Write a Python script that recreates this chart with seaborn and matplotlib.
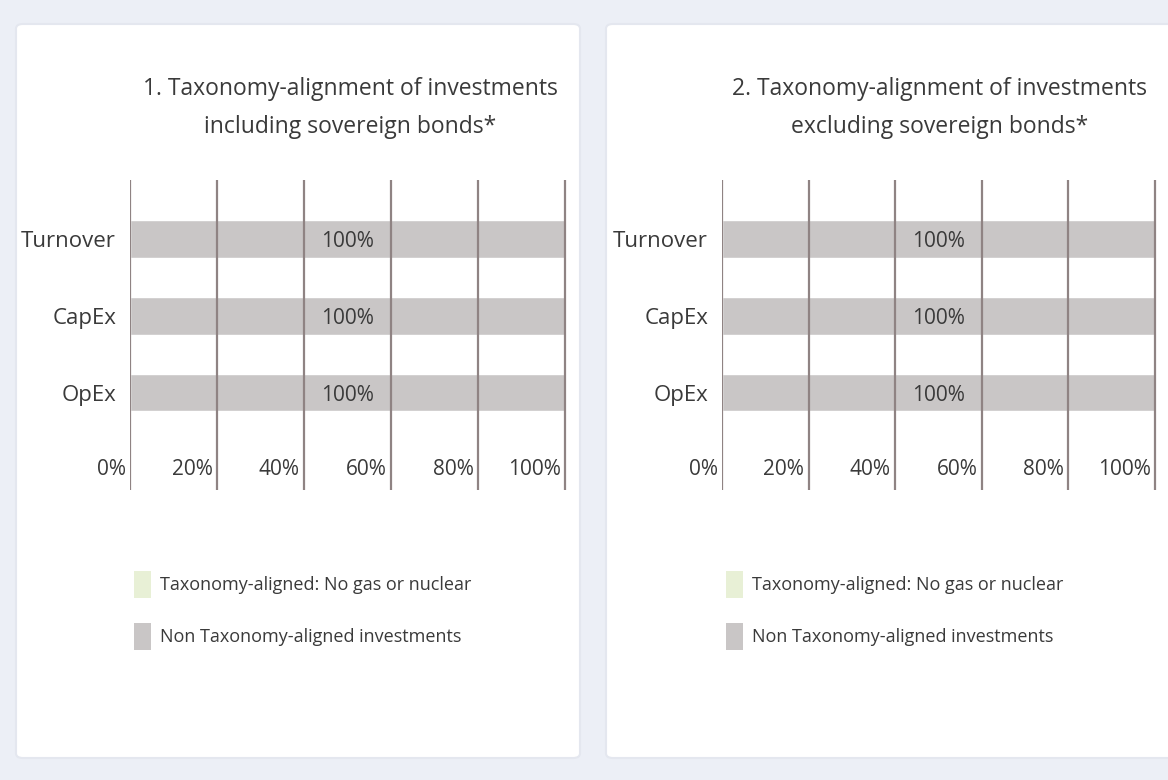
import pandas as pd
import matplotlib.pyplot as plt
import seaborn as sns
from matplotlib.patches import FancyBboxPatch, Patch

# --- data ---
categories = ["Turnover", "CapEx", "OpEx"]
aligned_incl = [0, 0, 0]
non_aligned_incl = [100, 100, 100]
aligned_excl = [0, 0, 0]
non_aligned_excl = [100, 100, 100]
tick_values = [0, 20, 40, 60, 80, 100]
titles = ["1. Taxonomy-alignment of investments\nincluding sovereign bonds*",
          "2. Taxonomy-alignment of investments\nexcluding sovereign bonds*"]
legend_labels = ["Taxonomy-aligned: No gas or nuclear",
                 "Non Taxonomy-aligned investments"]

green = "#e8f0d6"
grey = "#c9c6c6"
grid_col = "#8f8383"
text_col = "#3a3a3a"

sns.set_style("white")
plt.rcParams['font.family'] = ['Open Sans', 'DejaVu Sans']

fig = plt.figure(figsize=(11.68, 7.80), dpi=100)
fig.patch.set_facecolor("#eceff6")

W, H = 1168, 780

def fx(px):
    return px / W

def fy(py):
    return 1 - py / H

# white panels
for x0, x1 in [(16, 580), (606, 1180)]:
    fig.patches.append(FancyBboxPatch((fx(x0), fy(758)), fx(x1 - x0), (758 - 24) / H,
                                      boxstyle="round,pad=0,rounding_size=0.006",
                                      transform=fig.transFigure, facecolor="white",
                                      edgecolor="#e4e7ef", linewidth=1.5, zorder=-1))

panels = [
    (130, 567, 350, aligned_incl, non_aligned_incl, titles[0]),
    (722, 1157, 940, aligned_excl, non_aligned_excl, titles[1]),
]

for left, right, title_x, aligned, non_aligned, title in panels:
    ax = fig.add_axes([fx(left), fy(490), fx(right - left), (490 - 180) / H])
    ax.set_facecolor("none")
    df = pd.DataFrame({"category": categories, "aligned": aligned, "non_aligned": non_aligned})
    sns.barplot(data=df, y="category", x="non_aligned", color=grey, width=0.49,
                saturation=1, ax=ax, zorder=1)
    sns.barplot(data=df, y="category", x="aligned", color=green, width=0.49,
                saturation=1, ax=ax, zorder=2)
    ax.set_xlim(0, 100.5)
    ax.set_ylim(3.27, -0.77)
    for v in tick_values:
        ax.axvline(v, color=grid_col, lw=1.6, zorder=3)
        ax.text(v - 1.0, 2.97, f"{v}%", ha="right", va="center_baseline",
                fontsize=15, color=text_col)
    for i, val in enumerate(non_aligned):
        ax.text(50, i, f"{val}%", ha="center", va="center_baseline", fontsize=15,
                color=text_col, zorder=4)
    ax.set_xticks([])
    ax.set_xlabel("")
    ax.set_ylabel("")
    ax.tick_params(axis="y", length=0, pad=10, labelsize=16, labelcolor=text_col)
    sns.despine(ax=ax, left=True, bottom=True)
    fig.text(fx(title_x), fy(108), title, ha="center", va="center",
             fontsize=16.5, color=text_col, linespacing=1.75)

    handles = [Patch(facecolor=green, edgecolor="none"), Patch(facecolor=grey, edgecolor="none")]
    fig.legend(handles, legend_labels, loc="upper left",
               bbox_to_anchor=(fx(left - 12), fy(555)), frameon=False,
               fontsize=13, labelcolor=text_col, handlelength=0.9, handleheight=1.9,
               labelspacing=1.4, handletextpad=0.55)

fig.savefig("out.png", dpi=100, facecolor=fig.get_facecolor())
